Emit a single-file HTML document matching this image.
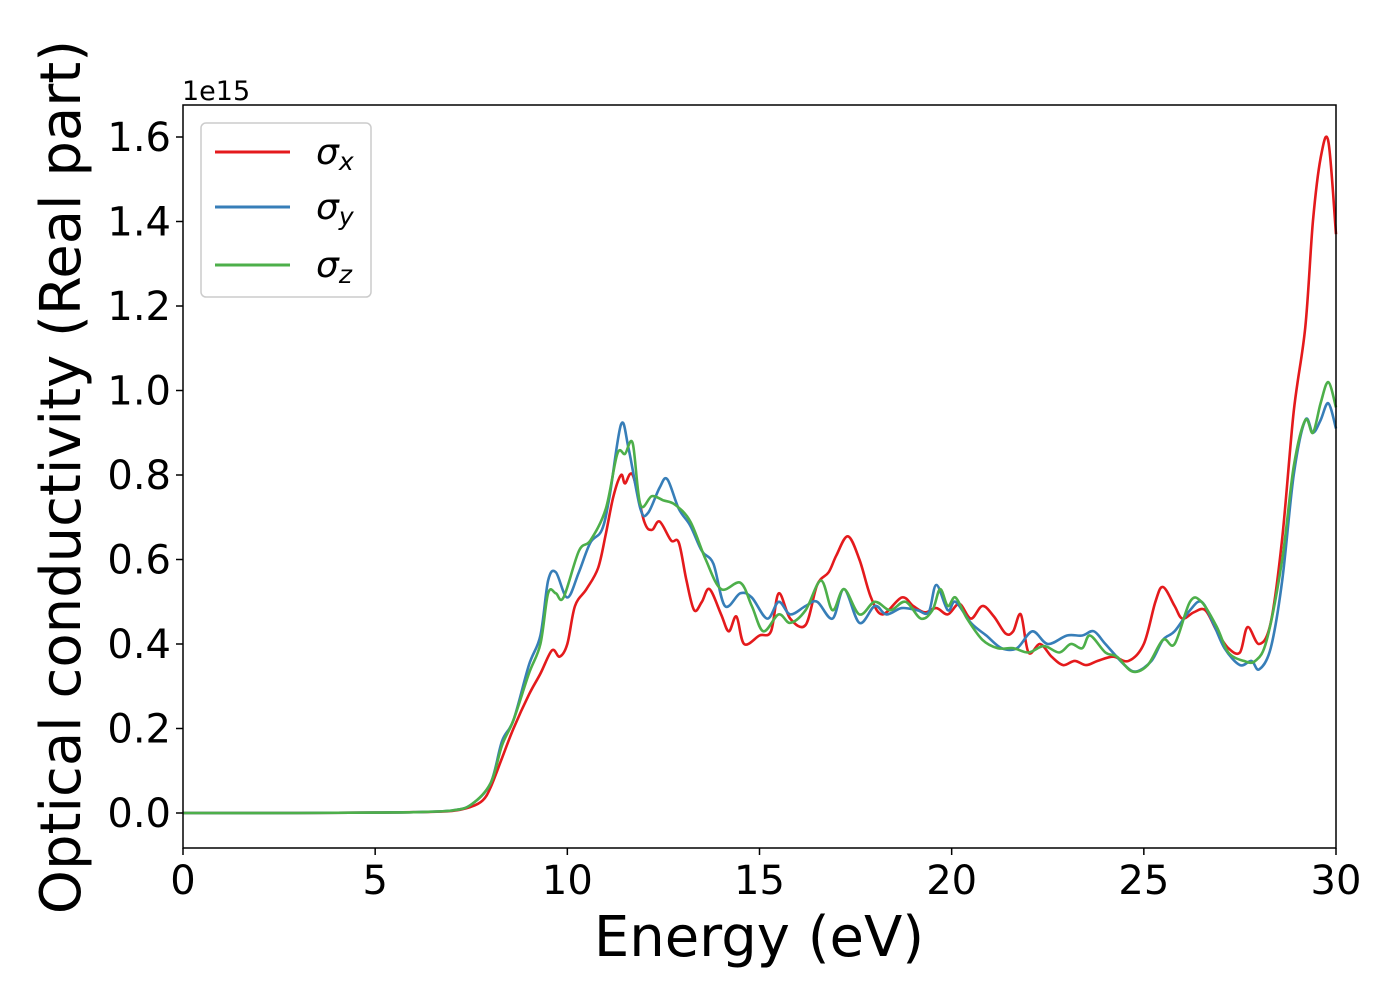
<!DOCTYPE html>
<html><head><meta charset="utf-8"><style>
body{margin:0;background:#fff;}
svg{display:block;font-family:"DejaVu Sans","Liberation Sans",sans-serif;}
</style></head><body>
<svg id="chart" width="1400" height="1000" viewBox="0 0 1400 1000">
<rect x="0" y="0" width="1400" height="1000" fill="#fff"/>
<g id="lines"></g>
<rect x="183" y="105" width="1153" height="743" fill="none" stroke="#000" stroke-width="1.5"/>
<g id="xticks"></g>
<g id="yticks"></g>
<text x="182" y="100" font-size="27">1e15</text>
<text x="759" y="956" font-size="56" text-anchor="middle">Energy (eV)</text>
<text transform="translate(80,477) rotate(-90)" font-size="56" text-anchor="middle">Optical conductivity (Real part)</text>
<g>
<rect x="201" y="123" width="170" height="174" rx="5" fill="#fff" fill-opacity="0.8" stroke="#ccc" stroke-width="1.5"/>
<line x1="215" y1="152" x2="290" y2="152" stroke="#e41a1c" stroke-width="3"/>
<text x="316" y="164" font-size="36" font-style="italic">σ<tspan font-size="25" dy="6">x</tspan></text>
<line x1="215" y1="207" x2="290" y2="207" stroke="#377eb8" stroke-width="3"/>
<text x="316" y="219" font-size="36" font-style="italic">σ<tspan font-size="25" dy="6">y</tspan></text>
<line x1="215" y1="265" x2="290" y2="265" stroke="#4daf4a" stroke-width="3"/>
<text x="316" y="277" font-size="36" font-style="italic">σ<tspan font-size="25" dy="6">z</tspan></text>
</g>
</svg>
<script>
const xTicks=[0,5,10,15,20,25,30];
const yTicks=[0.0,0.2,0.4,0.6,0.8,1.0,1.2,1.4,1.6];
const xE=[0,3,5,6,7,7.5,7.8,8.0,8.3,8.6,9.0,9.3,9.6,9.8,10.0,10.2,10.5,10.8,11.0,11.2,11.4,11.5,11.7,12.0,12.2,12.4,12.7,12.9,13.1,13.3,13.5,13.7,14.0,14.2,14.4,14.6,15.0,15.3,15.5,15.8,16.2,16.5,16.8,17.0,17.3,17.6,17.9,18.2,18.7,19.0,19.3,19.6,19.9,20.2,20.5,20.8,21.1,21.4,21.6,21.8,22.0,22.3,22.6,22.9,23.2,23.5,23.8,24.2,24.6,25.0,25.3,25.5,25.8,26.0,26.3,26.6,26.9,27.2,27.5,27.7,28.0,28.3,28.6,28.9,29.2,29.4,29.6,29.8,30];
const sigmaX=[0,0,0.001,0.002,0.005,0.015,0.03,0.06,0.13,0.2,0.28,0.33,0.385,0.37,0.40,0.49,0.53,0.58,0.66,0.75,0.80,0.78,0.80,0.69,0.67,0.69,0.645,0.64,0.55,0.48,0.50,0.53,0.47,0.43,0.465,0.40,0.42,0.43,0.52,0.46,0.445,0.54,0.57,0.61,0.655,0.60,0.51,0.47,0.51,0.49,0.475,0.485,0.47,0.495,0.46,0.49,0.465,0.425,0.43,0.47,0.38,0.40,0.37,0.35,0.36,0.35,0.36,0.37,0.36,0.40,0.50,0.535,0.49,0.46,0.475,0.48,0.43,0.39,0.38,0.44,0.40,0.45,0.65,0.95,1.15,1.40,1.55,1.59,1.37];
const yE=[0,3,5,6,7,7.5,8.0,8.3,8.6,9.0,9.3,9.5,9.7,10.0,10.3,10.6,10.9,11.1,11.4,11.6,11.9,12.1,12.4,12.6,12.9,13.2,13.5,13.8,14.1,14.5,14.8,15.2,15.5,15.8,16.2,16.5,16.9,17.2,17.6,18.0,18.3,18.7,19.1,19.4,19.6,19.9,20.1,20.5,20.9,21.3,21.7,22.1,22.5,23.0,23.4,23.7,24.0,24.5,24.8,25.2,25.5,25.8,26.2,26.5,26.8,27.1,27.5,27.8,28.0,28.3,28.6,28.9,29.2,29.4,29.6,29.8,30];
const sigmaY=[0,0,0.001,0.002,0.006,0.02,0.07,0.17,0.22,0.35,0.42,0.55,0.57,0.51,0.57,0.64,0.67,0.75,0.92,0.86,0.72,0.71,0.77,0.79,0.72,0.68,0.62,0.59,0.49,0.52,0.51,0.46,0.50,0.47,0.49,0.50,0.46,0.53,0.45,0.49,0.47,0.485,0.48,0.475,0.54,0.48,0.50,0.45,0.42,0.39,0.39,0.43,0.40,0.42,0.42,0.43,0.40,0.35,0.335,0.36,0.41,0.43,0.48,0.50,0.45,0.39,0.35,0.36,0.34,0.39,0.55,0.80,0.93,0.90,0.93,0.97,0.91];
const zE=[0,3,5,6,7,7.5,8.0,8.3,8.6,9.0,9.3,9.5,9.7,9.9,10.3,10.6,11.0,11.3,11.5,11.7,11.9,12.2,12.5,12.8,13.2,13.6,14.0,14.5,14.8,15.1,15.5,15.8,16.2,16.6,16.9,17.2,17.6,18.0,18.4,18.8,19.2,19.5,19.7,19.9,20.1,20.4,20.8,21.2,21.6,22.0,22.4,22.8,23.1,23.4,23.6,24.0,24.3,24.7,25.1,25.5,25.8,26.2,26.5,26.9,27.2,27.6,27.9,28.2,28.6,28.9,29.2,29.4,29.6,29.8,30];
const sigmaZ=[0,0,0.001,0.002,0.006,0.02,0.07,0.16,0.22,0.33,0.40,0.52,0.52,0.51,0.62,0.645,0.72,0.85,0.85,0.875,0.73,0.75,0.74,0.73,0.69,0.60,0.53,0.545,0.49,0.43,0.47,0.45,0.48,0.55,0.48,0.53,0.47,0.50,0.48,0.50,0.46,0.48,0.53,0.49,0.51,0.46,0.41,0.39,0.39,0.38,0.395,0.38,0.40,0.39,0.42,0.38,0.37,0.335,0.35,0.41,0.40,0.50,0.50,0.44,0.38,0.36,0.36,0.41,0.60,0.82,0.93,0.90,0.97,1.02,0.96];

const NS='http://www.w3.org/2000/svg';
const X0=183,X1=1336,Y0val=813,PXU=422.5;
function sx(e){return X0+(e/30)*(X1-X0);}
function sy(v){return Y0val-v*PXU;}
function smooth(xs,ys){
  const p=xs.map((x,i)=>[sx(x),sy(ys[i])]);
  let d='M'+p[0][0].toFixed(1)+','+p[0][1].toFixed(1);
  for(let i=0;i<p.length-1;i++){
    const a=p[Math.max(i-1,0)],b=p[i],c=p[i+1],e=p[Math.min(i+2,p.length-1)];
    const c1=[b[0]+(c[0]-a[0])/6,b[1]+(c[1]-a[1])/6];
    const c2=[c[0]-(e[0]-b[0])/6,c[1]-(e[1]-b[1])/6];
    d+='C'+c1[0].toFixed(1)+','+c1[1].toFixed(1)+' '+c2[0].toFixed(1)+','+c2[1].toFixed(1)+' '+c[0].toFixed(1)+','+c[1].toFixed(1);
  }
  return d;
}
const lines=document.getElementById('lines');
[[xE,sigmaX,'#e41a1c','sigma-x-line'],[yE,sigmaY,'#377eb8','sigma-y-line'],[zE,sigmaZ,'#4daf4a','sigma-z-line']].forEach(s=>{
  const path=document.createElementNS(NS,'path');
  path.setAttribute('d',smooth(s[0],s[1]));
  path.setAttribute('fill','none');
  path.setAttribute('stroke',s[2]);
  path.setAttribute('stroke-width','2.6');
  path.setAttribute('stroke-linejoin','round');
  
  
  lines.appendChild(path);
});
const xg=document.getElementById('xticks');
xTicks.forEach(t=>{
  const l=document.createElementNS(NS,'line');
  l.setAttribute('x1',sx(t));l.setAttribute('x2',sx(t));l.setAttribute('y1',848);l.setAttribute('y2',855);
  l.setAttribute('stroke','#000');l.setAttribute('stroke-width','1.5');
  
  
  xg.appendChild(l);
  const tx=document.createElementNS(NS,'text');
  tx.setAttribute('x',sx(t));tx.setAttribute('y',894);tx.setAttribute('font-size','40');tx.setAttribute('text-anchor','middle');
  tx.textContent=t;
  
  
  xg.appendChild(tx);
});
const yg=document.getElementById('yticks');
yTicks.forEach(t=>{
  const l=document.createElementNS(NS,'line');
  l.setAttribute('x1',176);l.setAttribute('x2',183);l.setAttribute('y1',sy(t));l.setAttribute('y2',sy(t));
  l.setAttribute('stroke','#000');l.setAttribute('stroke-width','1.5');
  
  
  yg.appendChild(l);
  const tx=document.createElementNS(NS,'text');
  tx.setAttribute('x',171);tx.setAttribute('y',sy(t)+14);tx.setAttribute('font-size','40');tx.setAttribute('text-anchor','end');
  tx.textContent=t.toFixed(1);
  
  
  yg.appendChild(tx);
});
</script>
</body></html>
